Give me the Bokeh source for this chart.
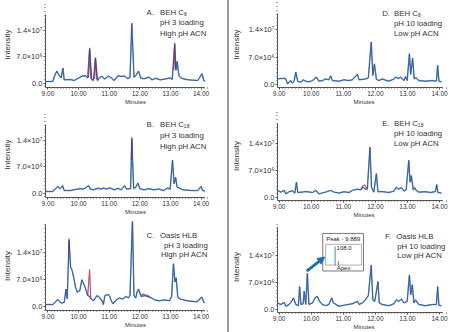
from bokeh.plotting import figure
from bokeh.layouts import row, column
from bokeh.models import Range1d, FixedTicker, Label, Arrow, NormalHead, Div
from bokeh.embed import file_html
from bokeh.resources import INLINE

NaN = float("nan")

# ---------------- data (intensity in units of 1e6) ----------------
A_t = [8.91, 9.16, 9.21, 9.29, 9.35, 9.43, 9.49, 9.53, 9.74, 9.85,
       10.01, 10.12, 10.22, 10.30, 10.36, 10.43, 10.49, 10.55, 10.62, 10.70,
       10.76, 10.86, 10.97, 11.07, 11.16, 11.29, 11.39, 11.50, 11.61, 11.68,
       11.74, 11.81, 11.87, 11.96, 12.03, 12.14, 12.30, 12.40, 12.51, 12.67,
       12.83, 12.99, 13.06, 13.14, 13.18, 13.22, 13.28, 13.36, 13.57, 13.89,
       14.03, 14.09, 14.13]
A_y = [0.45, 0.45, 1.8, 3.2, 2.3, 1.4, 4.0, 0.9, 1.0, 0.7,
       1.4, 1.9, 2.0, 1.4, 9.1, 0.9, 0.8, 6.7, 0.7, 1.6,
       1.8, 1.1, 1.9, 1.4, 0.7, 2.0, 1.8, 1.9, 1.2, 1.6,
       15.9, 1.6, 2.0, 3.2, 1.4, 1.2, 1.6, 0.9, 1.3, 0.9,
       1.1, 1.4, 1.0, 10.3, 3.4, 5.8, 2.0, 1.3, 0.9, 0.7,
       2.5, 0.7, 0.6]
A_red_t = [10.33, 10.365, 10.40, NaN, 10.52, 10.555, 10.59, NaN, 13.11, 13.14, 13.165]
A_red_y = [1.5, 9.4, 1.2, NaN, 1.2, 6.8, 1.0, NaN, 3.5, 10.8, 4.0]

B_t = [8.91, 9.16, 9.27, 9.32, 9.40, 9.48, 9.53, 9.74, 9.90, 10.06,
       10.17, 10.26, 10.33, 10.38, 10.49, 10.62, 10.76, 10.81, 10.91, 11.02,
       11.18, 11.29, 11.39, 11.50, 11.57, 11.66, 11.70, 11.74, 11.80, 11.87,
       11.94, 12.00, 12.14, 12.30, 12.46, 12.62, 12.78, 12.91, 12.99, 13.07,
       13.12, 13.17, 13.22, 13.31, 13.41, 13.68, 13.89, 14.00, 14.05, 14.13]
B_y = [0.45, 0.45, 1.4, 1.8, 1.2, 2.0, 0.7, 0.7, 1.0, 1.2,
       1.1, 1.6, 2.0, 1.1, 0.9, 1.3, 1.1, 1.4, 1.1, 1.4,
       0.9, 1.3, 0.9, 2.0, 1.1, 1.2, 1.2, 14.4, 1.2, 1.6,
       2.7, 1.2, 0.9, 1.2, 0.9, 1.1, 0.7, 1.4, 1.0, 8.8,
       2.5, 4.2, 1.6, 1.3, 0.9, 0.7, 0.7, 1.8, 0.7, 0.6]
B_red_t = [11.725, 11.74, 11.755]
B_red_y = [9.0, 14.9, 9.0]

C_t = [8.91, 9.16, 9.32, 9.43, 9.53, 9.59, 9.63, 9.69, 9.74, 9.79,
       9.85, 9.90, 9.96, 10.04, 10.11, 10.19, 10.25, 10.30, 10.36, 10.40,
       10.49, 10.60, 10.70, 10.79, 10.81, 10.86, 10.97, 11.02, 11.07, 11.13,
       11.23, 11.34, 11.44, 11.55, 11.63, 11.68, 11.76, 11.81, 11.87, 11.91,
       11.96, 12.04, 12.17, 12.33, 12.49, 12.65, 12.81, 12.97, 13.04, 13.10,
       13.15, 13.19, 13.24, 13.33, 13.54, 13.86, 14.03, 14.09, 14.13]
C_y = [0.5, 0.5, 1.8, 0.9, 1.0, 4.5, 2.0, 17.0, 10.1, 9.3,
       7.1, 5.0, 3.7, 4.1, 6.9, 5.4, 4.1, 2.8, 2.6, 2.0,
       1.5, 2.8, 2.2, 1.1, 0.5, 2.8, 3.1, 2.6, 1.4, 0.7,
       1.7, 2.2, 1.9, 2.6, 2.2, 2.8, 22.5, 2.8, 2.2, 3.7,
       4.5, 2.6, 2.8, 2.4, 1.7, 1.5, 1.7, 1.5, 2.6, 11.0,
       6.3, 7.4, 2.4, 1.9, 1.5, 1.2, 2.4, 1.1, 1.0]
C_red_t = [9.675, 9.69, 9.705, NaN, 10.30, 10.36, 10.40, NaN, 12.04, 12.10, 12.17, 12.25, 12.33]
C_red_y = [13.2, 17.6, 14.9, NaN, 2.8, 9.6, 2.0, NaN, 2.8, 3.2, 3.0, 2.9, 2.4]

D_t = [8.95, 9.16, 9.21, 9.26, 9.31, 9.36, 9.41, 9.47, 9.52, 9.58,
       9.68, 9.75, 9.83, 9.93, 10.04, 10.16, 10.24, 10.35, 10.45, 10.55,
       10.61, 10.66, 10.87, 11.02, 11.18, 11.28, 11.44, 11.49, 11.69, 11.78,
       11.87, 11.92, 11.97, 12.03, 12.11, 12.21, 12.42, 12.58, 12.63, 12.73,
       12.78, 12.89, 12.94, 12.99, 13.06, 13.10, 13.16, 13.21, 13.27, 13.35,
       13.56, 13.77, 13.90, 13.94, 13.98, 14.06]
D_y = [1.45, 1.6, 1.4, 0.2, 0.6, 1.0, 0.35, 1.0, 3.2, 0.8,
       0.6, 1.2, 0.85, 0.7, 1.0, 1.9, 0.85, 1.0, 1.4, 1.2,
       2.2, 1.0, 0.85, 1.2, 1.0, 1.2, 2.6, 1.2, 1.4, 1.7,
       10.9, 2.3, 5.3, 1.4, 1.0, 1.4, 0.85, 1.4, 1.9, 1.55,
       1.9, 1.0, 2.05, 1.0, 7.9, 2.6, 6.8, 1.45, 1.7, 1.0,
       0.85, 1.0, 0.9, 4.9, 0.85, 0.7]
D_red_t = []
D_red_y = []

E_t = [8.95, 9.05, 9.16, 9.21, 9.31, 9.41, 9.49, 9.54, 9.58, 9.73,
       9.83, 10.04, 10.14, 10.24, 10.45, 10.61, 10.71, 10.87, 11.02, 11.18,
       11.28, 11.44, 11.54, 11.62, 11.69, 11.75, 11.83, 11.88, 11.95, 12.03,
       12.08, 12.21, 12.42, 12.58, 12.65, 12.73, 12.81, 12.89, 12.96, 13.04,
       13.08, 13.12, 13.18, 13.22, 13.27, 13.35, 13.56, 13.72, 13.87, 13.91,
       13.95, 14.06]
E_y = [1.9, 1.45, 1.9, 1.0, 1.55, 1.8, 1.2, 4.0, 1.35, 1.45,
       1.6, 1.35, 1.9, 1.0, 1.45, 1.9, 1.45, 1.2, 1.55, 1.35,
       1.9, 2.2, 2.05, 2.7, 2.2, 2.3, 13.0, 2.7, 1.45, 6.2,
       1.55, 1.6, 1.35, 1.7, 2.7, 2.2, 2.6, 1.7, 2.1, 9.6,
       4.0, 5.7, 2.05, 2.6, 1.9, 1.45, 1.55, 1.35, 1.6, 3.4,
       1.35, 1.2]
E_red_t = [11.54, 11.60, 11.66, 11.72, 11.76]
E_red_y = [2.05, 3.0, 3.3, 2.6, 2.2]

F_t = [8.95, 9.05, 9.16, 9.21, 9.31, 9.39, 9.45, 9.52, 9.60, 9.64,
       9.68, 9.75, 9.78, 9.83, 9.88, 9.93, 10.04, 10.12, 10.19, 10.26,
       10.35, 10.45, 10.55, 10.64, 10.69, 10.87, 11.07, 11.28, 11.44, 11.49,
       11.59, 11.69, 11.78, 11.87, 11.92, 11.98, 12.08, 12.12, 12.21, 12.42,
       12.58, 12.65, 12.73, 12.81, 12.89, 12.99, 13.06, 13.10, 13.15, 13.20,
       13.25, 13.35, 13.56, 13.77, 13.90, 13.94, 13.98, 14.06]
F_y = [1.7, 1.3, 1.85, 0.85, 1.3, 2.1, 3.0, 1.3, 1.0, 5.9,
       1.3, 1.5, 4.7, 1.3, 9.3, 1.3, 1.7, 3.0, 3.4, 2.1,
       1.3, 1.0, 1.3, 3.0, 1.7, 0.85, 1.2, 1.5, 2.1, 1.3,
       1.7, 2.5, 3.6, 11.4, 2.5, 2.1, 7.2, 1.7, 1.3, 1.0,
       1.5, 2.5, 2.1, 2.7, 1.7, 2.1, 8.9, 3.8, 6.4, 1.7,
       2.5, 1.3, 1.0, 1.3, 1.3, 5.9, 1.1, 1.0]
F_red_t = []
F_red_y = []

# inset mass spectrum in panel F (apex of peak at 9.889 min)
spec_mz = [108.0, 129.0]
spec_rel = [100.0, 21.0]
spec_peak_label = "108.0"
spec_title = "Peak - 9.889"
spec_footer = "Apex"

A_title = ["A.", "BEH C\u2088", "pH 3 loading", "High pH ACN"]
B_title = ["B.", "BEH C\u2081\u2088", "pH 3 loading", "High pH ACN"]
C_title = ["C.", "Oasis HLB", "pH 3 loading", "High pH ACN"]
D_title = ["D.", "BEH C\u2088", "pH 10 loading", "Low pH ACN"]
E_title = ["E.", "BEH C\u2081\u2088", "pH 10 loading", "Low pH ACN"]
F_title = ["F.", "Oasis HLB", "pH 10 loading", "Low pH ACN"]

Y_TICKS = [0, 7, 14]
Y_TICK_LABELS = ["0.0", "7.0\u00d710\u2076", "1.4\u00d710\u2077"]
X_TICKS = [9, 10, 11, 12, 13, 14]
X_TICK_LABELS = ["9.00", "10.00", "11.00", "12.00", "13.00", "14.00"]
X_LABEL = "Minutes"
Y_LABEL = "Intensity"

# ---------------- style ----------------
FONT = "Liberation Sans"
TXT = "#333333"
AXC = "#555555"
LIGHT = "#6aa2d8"
NAVY = "#2f4474"
RED = "#b5315f"


def make_panel(t, y, rt, ry, title, w, h, mb, xr, xb, yr, yb,
               letter_x, text_x, text_y, ylab_standoff):
    p = figure(width=w, height=h, x_range=Range1d(*xr), y_range=Range1d(*yr),
               output_backend="svg", toolbar_location=None,
               min_border_left=mb[0], min_border_right=mb[1],
               min_border_top=mb[2], min_border_bottom=mb[3])
    p.outline_line_color = None
    p.grid.visible = False
    p.background_fill_color = "white"
    p.border_fill_color = "white"

    p.line(t, y, line_color=LIGHT, line_width=1.5)
    if rt:
        p.line(rt, ry, line_color=RED, line_width=1.2, line_alpha=0.85)
    p.line(t, y, line_color=NAVY, line_width=0.7)

    p.xaxis.ticker = FixedTicker(ticks=X_TICKS,
                                 minor_ticks=[round(8.9 + 0.1 * i, 2) for i in range(54)])
    p.xaxis.major_label_overrides = dict(zip(X_TICKS, X_TICK_LABELS))
    p.yaxis.ticker = FixedTicker(ticks=Y_TICKS, minor_ticks=list(range(-1, 23)))
    p.yaxis.major_label_overrides = dict(zip(Y_TICKS, Y_TICK_LABELS))
    p.xaxis.bounds = xb
    p.yaxis.bounds = yb
    p.xaxis.axis_label = X_LABEL
    p.yaxis.axis_label = Y_LABEL
    for ax in (p.xaxis[0], p.yaxis[0]):
        ax.axis_line_color = AXC
        ax.major_tick_line_color = AXC
        ax.minor_tick_line_color = AXC
        ax.major_tick_in = 0
        ax.major_tick_out = 2
        ax.minor_tick_in = 0
        ax.minor_tick_out = 1
        ax.major_label_standoff = 1
        ax.major_label_text_font = FONT
        ax.major_label_text_color = TXT
        ax.axis_label_text_font = FONT
        ax.axis_label_text_color = TXT
        ax.axis_label_text_font_style = "normal"
    p.xaxis.major_label_text_font_size = "6.5px"
    p.xaxis.axis_label_text_font_size = "6px"
    p.xaxis.axis_label_standoff = 0
    p.yaxis.major_label_text_font_size = "7.5px"
    p.yaxis.axis_label_text_font_size = "8px"
    p.yaxis.axis_label_standoff = ylab_standoff

    p.add_layout(Label(x=letter_x, y=text_y[0], text=title[0], text_font=FONT,
                       text_font_size="7.8px", text_color=TXT, text_baseline="middle"))
    for s, tx, ty in zip(title[1:], text_x, text_y):
        p.add_layout(Label(x=tx, y=ty, text=s, text_font=FONT,
                           text_font_size="7.8px", text_color=TXT, text_baseline="middle"))
    return p


LX = (8.92, 14.80)
LXB = (8.92, 14.13)
RX = (8.95, 14.34)
RXB = (8.95, 14.09)

pA = make_panel(A_t, A_y, A_red_t, A_red_y, A_title, 227, 110, (41, 2, 1, 23),
                LX, LXB, (-1.14, 21.69), (-1.14, 18.2),
                12.22, [12.66] * 3, [18.7, 16.0, 13.1], 1)
pB = make_panel(B_t, B_y, B_red_t, B_red_y, B_title, 227, 110, (41, 2, 1, 23),
                LX, LXB, (-1.14, 21.69), (-1.14, 18.2),
                12.22, [12.66] * 3, [18.2, 15.2, 12.5], 1)
pC = make_panel(C_t, C_y, C_red_t, C_red_y, C_title, 227, 112, (41, 2, 1, 22),
                LX, LXB, (-1.03, 21.89), (-1.03, 21.1),
                12.22, [12.66, 12.79, 12.69], [18.3, 15.7, 13.3], 1)
pD = make_panel(D_t, D_y, D_red_t, D_red_y, D_title, 222, 110, (48, 1, 1, 23),
                RX, RXB, (-0.77, 21.28), (-0.77, 18.2),
                12.21, [12.58] * 3, [18.3, 15.7, 13.0], 4)
pE = make_panel(E_t, E_y, E_red_t, E_red_y, E_title, 222, 110, (48, 1, 1, 20),
                RX, RXB, (-0.7, 22.13), (-0.7, 19.0),
                12.21, [12.58] * 3, [19.1, 16.4, 13.8], 4)
pF = make_panel(F_t, F_y, F_red_t, F_red_y, F_title, 222, 112, (48, 1, 1, 19),
                RX, RXB, (-0.76, 22.65), (-0.76, 21.1),
                12.30, [12.65, 12.68, 12.68], [18.8, 16.3, 14.0], 4)

# ---- inset (drawn in panel F's data space) ----
OUT_L, OUT_R, OUT_B, OUT_T = 10.36, 11.63, 9.92, 19.58
IN_L, IN_R, IN_B, IN_T = 10.45, 11.57, 11.44, 16.78
MZ_LO, MZ_HI = 50.0, 270.0
pF.quad(left=[OUT_L], right=[OUT_R], bottom=[OUT_B], top=[OUT_T],
        fill_color="white", line_color="#7a7a7a", line_width=1)
pF.quad(left=[IN_L], right=[IN_R], bottom=[IN_B], top=[IN_T],
        fill_color="white", line_color="#9a9a9a", line_width=0.8)
sx = [IN_L + (m - MZ_LO) / (MZ_HI - MZ_LO) * (IN_R - IN_L) for m in spec_mz]
sy = [IN_B + r / 100.0 * 0.9 * (IN_T - IN_B) for r in spec_rel]
pF.segment(x0=sx, y0=[IN_B] * len(sx), x1=sx, y1=sy, line_color="#4a86c5", line_width=1)
pF.add_layout(Label(x=(OUT_L + OUT_R) / 2, y=18.2, text=spec_title, text_font=FONT,
                    text_font_size="6px", text_color="#222", text_align="center",
                    text_baseline="middle"))
pF.add_layout(Label(x=sx[0] + 0.045, y=15.76, text=spec_peak_label, text_font=FONT,
                    text_font_size="6px", text_color="#222", text_baseline="middle"))
pF.add_layout(Label(x=(IN_L + IN_R) / 2, y=10.68, text=spec_footer, text_font=FONT,
                    text_font_size="6px", text_color="#222", text_align="center",
                    text_baseline="middle"))
pF.add_layout(Arrow(end=NormalHead(size=7, fill_color="#1f6fb5", line_color="#1f6fb5"),
                    x_start=9.86, y_start=9.9, x_end=10.42, y_end=13.5,
                    line_color="#1f6fb5", line_width=3))

divider = Div(text="", width=2, height=332, margin=(0, 0, 0, 0),
              styles={"background-color": "#9b9b9b"})

layout = row(column(pA, pB, pC, spacing=0), divider, column(pD, pE, pF, spacing=0), spacing=0)

open("out.html", "w").write(file_html(layout, INLINE))
